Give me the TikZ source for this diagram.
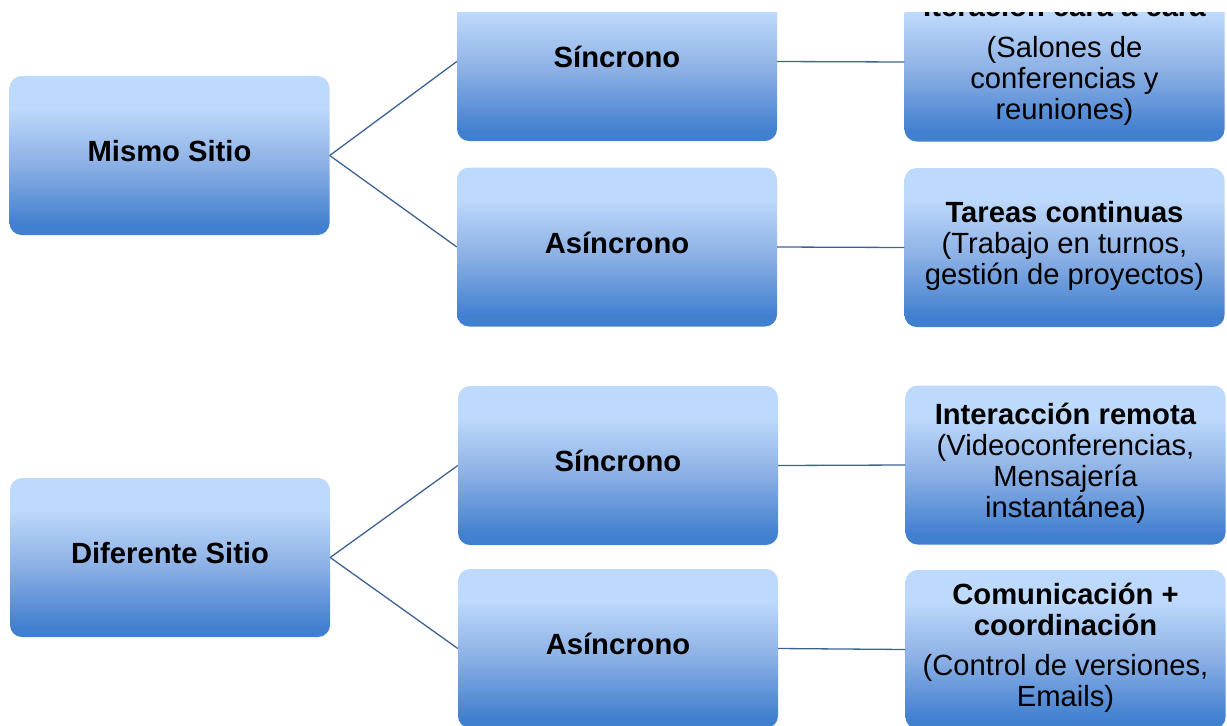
\documentclass[tikz,border=0pt]{standalone}
\usepackage{fontspec}
\setmainfont{Liberation Sans}
\usepackage{xcolor}

\definecolor{cajaclara}{RGB}{189,217,251}
\definecolor{cajamedia}{RGB}{142,178,230}
\definecolor{cajaoscura}{RGB}{65,127,207}
\definecolor{linea}{RGB}{62,98,150}
\pgfdeclareverticalshading{cajasombra}{100bp}{color(0bp)=(cajaoscura); color(28bp)=(cajaoscura); color(48bp)=(cajamedia); color(65bp)=(cajaclara); color(100bp)=(cajaclara)}

% texto centrado (tabular: queda un poco por encima del centro)
\newcommand{\cajatexto}[1]{\begin{tabular}{@{}c@{}}#1\end{tabular}}

\tikzset{
  caja/.style={rectangle, rounded corners=12pt, shading=cajasombra,
    minimum width=320pt, minimum height=159pt, inner sep=0pt,
    font=\fontsize{29.2}{31}\selectfont},
  enlace/.style={draw=linea, line width=1.3pt}
}

\begin{document}
\begin{tikzpicture}[x=1pt,y=-1pt]
  \useasboundingbox (0,0) rectangle (1227,726);
  \clip (0,12) rectangle (1227,726);
  % Mismo sitio
  \begin{scope}
    \node[caja] (ms) at (169.5,155.5) {\cajatexto{\textbf{Mismo Sitio}}};
    \node[caja] (s1) at (617,61.5) {\cajatexto{\textbf{Síncrono}}};
    \node[caja] (a1) at (617,247) {\cajatexto{\textbf{Asíncrono}}};
    \node[caja] (r1) at (1064.5,62) {\cajatexto{\textbf{Iteración cara a cara}\\[10pt](Salones de\\conferencias y\\reuniones)}};
    \node[caja] (r2) at (1064.5,247.5) {\cajatexto{\textbf{Tareas continuas}\\(Trabajo en turnos,\\gestión de proyectos)}};
  \end{scope}
  % Diferente sitio
  \begin{scope}
    \node[caja] (ds) at (170,557.5) {\cajatexto{\textbf{Diferente Sitio}}};
    \node[caja] (s2) at (618,465.5) {\cajatexto{\textbf{Síncrono}}};
    \node[caja] (a2) at (618,648.5) {\cajatexto{\textbf{Asíncrono}}};
    \node[caja] (r3) at (1065.5,465) {\cajatexto{\textbf{Interacción remota}\\(Videoconferencias,\\Mensajería\\instantánea)}};
    \node[caja] (r4) at (1065.5,649.5) {\cajatexto{\textbf{Comunicación +}\\\textbf{coordinación}\\[9pt](Control de versiones,\\Emails)}};
  \end{scope}
  % enlaces
  \foreach \a/\b in {ms/s1,ms/a1,s1/r1,a1/r2,ds/s2,ds/a2,s2/r3,a2/r4}{
    \draw[enlace] (\a.east) -- (\b.west);
  }
\end{tikzpicture}
\end{document}
